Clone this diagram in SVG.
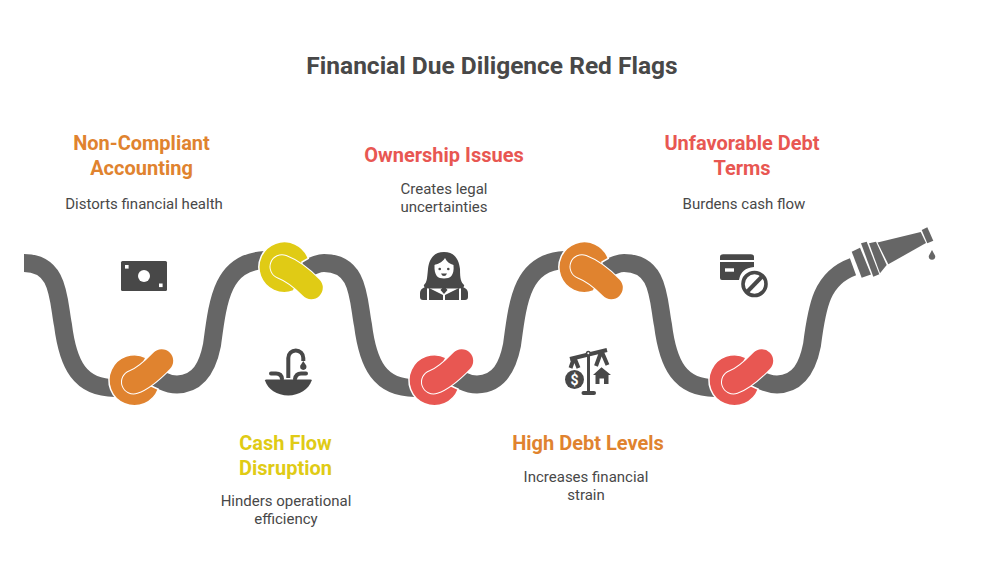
<svg xmlns="http://www.w3.org/2000/svg" width="984" height="588" viewBox="0 0 984 588">
<style>
text{font-family:Roboto,"Liberation Sans",sans-serif;text-anchor:middle}
.t{font-size:24.5px;font-weight:700;fill:#484848}
.h{font-size:20px;font-weight:700}
.s{font-size:15px;fill:#484848}
.hose{fill:none;stroke:#666;stroke-width:18}
.ic{fill:#484848}
.icl{fill:none;stroke:#484848;stroke-width:4}
.w{fill:#fff}
.o{fill:#E0832F}.y{fill:#E0CB15}.r{fill:#E85752}
.bo{stroke:#E0832F}.by{stroke:#E0CB15}.br{stroke:#E85752}
.halo{fill:none;stroke:#fff;stroke-width:25;stroke-linecap:round}
.bean{fill:none;stroke-width:23;stroke-linecap:round}
.sec{stroke:#fff;stroke-width:1.5}
.n{fill:#666}
</style>
<rect width="984" height="588" fill="#fff"/>
<text class="t" x="492" y="74">Financial Due Diligence Red Flags</text>

<g id="connectors">
<path class="hose" d="M24 263C60 263 58 300 63 325C68 365 80 388 115 388"/>
<path class="hose" d="M146 370C155 378 165 384.4 177 384.4C200 384 208 365 212 345C218 300 222 262 265 260"/>
<path class="hose" d="M300 272C308 268 316 263 324 263C360 263 358 300 363 325C368 365 380 388 415 388"/>
<path class="hose" d="M446 370C455 378 465 384.4 477 384.4C500 384 508 365 512 345C518 300 522 262 565 260"/>
<path class="hose" d="M600 272C608 268 616 263 624 263C660 263 658 300 663 325C668 365 680 388 715 388"/>
<path class="hose" d="M746 370C755 378 765 384.4 777 384.4C800 384 808 365 812 345C817 305 822 278 853 266.7"/>
</g>

<g id="knot-1">
<path class="o sec" d="M158.3 389.3L151 386L140 370L146 357.500A25.5 25.5 0 1 0 158.3 389.3Z"/>
<path class="halo" d="M133.5 382Q145 378 161.7 360.7"/>
<path class="bean bo" d="M133.5 382Q145 378 161.7 360.7"/>
</g>
<g id="knot-2">
<path class="y sec" d="M308.3 258.3A25.5 25.5 0 1 0 293.3 291L300 280L302 262Z"/>
<path class="halo" d="M282 266.7Q296 272 311.3 287.7"/>
<path class="bean by" d="M282 266.7Q296 272 311.3 287.7"/>
</g>
<g id="knot-3">
<path class="r sec" d="M458.3 389.3L451 386L440 370L446 357.500A25.5 25.5 0 1 0 458.3 389.3Z"/>
<path class="halo" d="M433.5 382Q445 378 461.7 360.7"/>
<path class="bean br" d="M433.5 382Q445 378 461.7 360.7"/>
</g>
<g id="knot-4">
<path class="o sec" d="M608.3 258.3A25.5 25.5 0 1 0 593.3 291L600 280L602 262Z"/>
<path class="halo" d="M582 266.7Q596 272 611.3 287.7"/>
<path class="bean bo" d="M582 266.7Q596 272 611.3 287.7"/>
</g>
<g id="knot-5">
<path class="r sec" d="M758.3 389.3L751 386L740 370L746 357.500A25.5 25.5 0 1 0 758.3 389.3Z"/>
<path class="halo" d="M733.5 382Q745 378 761.7 360.7"/>
<path class="bean br" d="M733.5 382Q745 378 761.7 360.7"/>
</g>

<g id="nozzle">
<polygon class="n" points="851.7,251.7 860,247.7 871,274.5 861.7,277.7"/>
<polygon class="n" points="861,243.3 866.7,241.7 879.3,274.3 873.3,276.7"/>
<polygon class="n" points="869,243.3 876,241.7 886.7,265 880,273.3"/>
<polygon class="n" points="877.5,242.5 920.7,232 926,243 888.3,264.3"/>
<polygon class="n" points="921.7,230 927.3,227.3 933.3,240.7 927.3,243.3"/>
<path class="n" d="M932 250L935 255.5A3.2 3.2 0 1 1 929 255.5Z"/>
</g>

<g id="icon-money">
<rect class="ic" x="121" y="261" width="46" height="30" rx="1.5"/>
<circle class="w" cx="144" cy="276" r="6"/>
<rect class="w" x="125" y="265" width="3.6" height="3.6"/>
<rect class="w" x="159" y="283.5" width="3.6" height="3.6"/>
</g>
<g id="icon-sink">
<path class="ic" d="M265 380.5Q265 379.5 266.5 379.5L310.5 379.5Q312 379.5 311.7 380.5C309 389 299 395.5 288.3 395.5C277 395.5 267.5 389 265 380.5Z"/>
<path class="icl" d="M288.3 378V358A7.5 7.5 0 0 1 303.3 358V361"/>
<path class="icl" stroke-linecap="round" d="M271 373.5H276Q281.5 373.5 282 379"/>
<path class="icl" stroke-linecap="round" d="M306 373.5H301Q296 373.5 295 379"/>
<path class="ic" d="M303.3 361L306.2 365.5A3.2 3.2 0 1 1 300.4 365.5Z"/>
</g>
<g id="icon-woman">
<path class="ic" d="M444 252C433 252 429 260 428 269C427 279 427 282 424 285Q423 287 428 288.500L460 288.500Q465 287 464 285C461 282 460 279 460 269C459 260 455 252 444 252Z"/>
<path class="w" d="M445 258C442 263 437 264 434.500 265C434 276 438 278.500 444 278.500C450 278.500 454.500 276 453.500 265C450 264 447 262 445 258Z"/>
<circle class="ic" cx="439.700" cy="269" r="1.300"/>
<circle class="ic" cx="448.300" cy="269" r="1.300"/>
<path class="ic" d="M441 273.500H447Q446 276 444 276Q442 276 441 273.500Z"/>
<path class="ic" d="M420 293Q420 289 425 287L427 286L427 300H423Q420 300 420 297Z"/>
<path class="ic" d="M429 288L443 295L443 300H429Z"/>
<path class="ic" d="M459 288L445 295L445 300H459Z"/>
<path class="ic" d="M468 293Q468 289 463 287L461 286L461 300H465Q468 300 468 297Z"/>
<path class="ic" d="M444 286L447.500 290L444 294L440.500 290Z"/>
</g>
<g id="icon-scale">
<path class="icl" stroke-width="3.500" d="M570 359L607 350"/>
<path class="ic" d="M587 353H590V392H587Z"/>
<circle class="ic" cx="588.300" cy="353.300" r="2.500"/>
<circle class="w" cx="588.300" cy="353.300" r="1"/>
<rect class="ic" x="581.500" y="391" width="14.500" height="4" rx="2"/>
<path class="icl" stroke-width="2.800" d="M574 358L570.500 368M574.500 358L578.500 368"/>
<path class="icl" stroke-width="2.800" d="M601.500 351L596 366M601.500 351L607.500 365"/>
<circle class="ic" cx="574.500" cy="379.500" r="9.500"/>
<text x="574.500" y="384.500" font-size="14" font-weight="700" fill="#fff">$</text>
<path class="ic" d="M593 375L601.500 367.300L611 375L608.500 375V384H604V378.500H599.500V384H595.500V375Z"/>
</g>
<g id="icon-card">
<path class="ic" d="M720 260V257Q720 254.300 723 254.300H751Q754 254.300 754 257V260Z"/>
<path class="ic" d="M720 262H754V267Q741 268 739 280H722Q720 280 720 278Z"/>
<rect class="w" x="725" y="268.300" width="9" height="3.400"/>
<circle fill="none" stroke="#484848" stroke-width="3.600" cx="754.500" cy="284" r="11.500"/>
<path class="icl" stroke-width="3.600" d="M747 292L762.500 276"/>
</g>

<g id="label-1"><text class="h" x="141.500" y="150" fill="#E0832F">Non-Compliant</text><text class="h" x="141.500" y="175" fill="#E0832F">Accounting</text><text class="s" x="144" y="209">Distorts financial health</text></g>
<g id="label-2"><text class="h" x="285.500" y="450" fill="#E0CB15">Cash Flow</text><text class="h" x="285.500" y="475" fill="#E0CB15">Disruption</text><text class="s" x="286" y="506">Hinders operational</text><text class="s" x="286" y="524">efficiency</text></g>
<g id="label-3"><text class="h" x="444" y="162" fill="#E85752">Ownership Issues</text><text class="s" x="444" y="194">Creates legal</text><text class="s" x="444" y="212">uncertainties</text></g>
<g id="label-4"><text class="h" x="588" y="450" fill="#E0832F">High Debt Levels</text><text class="s" x="586" y="482">Increases financial</text><text class="s" x="586" y="500">strain</text></g>
<g id="label-5"><text class="h" x="742" y="150" fill="#E85752">Unfavorable Debt</text><text class="h" x="742" y="175" fill="#E85752">Terms</text><text class="s" x="744" y="209">Burdens cash flow</text></g>
</svg>
